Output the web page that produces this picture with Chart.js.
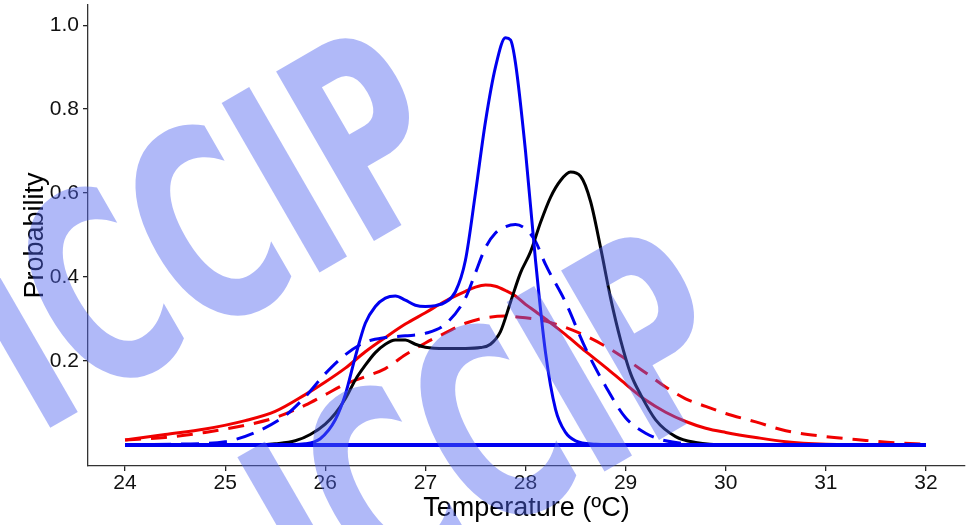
<!DOCTYPE html>
<html><head><meta charset="utf-8">
<script src="https://cdn.jsdelivr.net/npm/chart.js@4/dist/chart.umd.min.js"></script>
<style>html,body{margin:0;padding:0;background:#fff;}#wrap{width:968px;height:525px;position:relative;}</style>
</head><body><div id="wrap"><canvas id="c" width="968" height="525"></canvas></div>
<script>
// ---- data ----
const xTickValues = [24, 25, 26, 27, 28, 29, 30, 31, 32];
const yTickValues = [0.2, 0.4, 0.6, 0.8, 1.0];

const blueSolidT = [24, 25.5, 25.8, 25.95, 26.1, 26.2, 26.3, 26.4, 26.5, 26.6, 26.7, 26.8, 26.9, 27.0, 27.1, 27.2, 27.3, 27.4, 27.5, 27.6, 27.7, 27.8, 27.85, 27.9, 28.0, 28.1, 28.2, 28.3, 28.4, 28.5, 28.7, 29.0, 32];
const blueSolidP = [0, 0, 0.003, 0.015, 0.06, 0.12, 0.21, 0.29, 0.33, 0.35, 0.355, 0.345, 0.333, 0.33, 0.332, 0.34, 0.365, 0.44, 0.6, 0.77, 0.9, 0.97, 0.965, 0.91, 0.70, 0.44, 0.22, 0.085, 0.03, 0.01, 0.002, 0, 0];

const blueDashT = [24, 24.5, 25.0, 25.3, 25.6, 25.8, 26.0, 26.2, 26.4, 26.6, 26.8, 27.0, 27.2, 27.4, 27.5, 27.6, 27.7, 27.8, 27.9, 28.0, 28.1, 28.2, 28.4, 28.6, 28.8, 29.0, 29.2, 29.4, 29.7, 30, 32];
const blueDashP = [0, 0.002, 0.008, 0.03, 0.07, 0.115, 0.17, 0.215, 0.245, 0.256, 0.26, 0.266, 0.288, 0.35, 0.41, 0.47, 0.505, 0.52, 0.525, 0.515, 0.485, 0.43, 0.34, 0.23, 0.14, 0.065, 0.028, 0.01, 0.002, 0, 0];

const blackT = [24, 25.3, 25.5, 25.7, 25.85, 26.0, 26.1, 26.2, 26.3, 26.4, 26.5, 26.6, 26.7, 26.8, 26.9, 27.0, 27.2, 27.4, 27.55, 27.65, 27.75, 27.85, 27.95, 28.05, 28.15, 28.25, 28.35, 28.45, 28.55, 28.65, 28.75, 28.85, 28.95, 29.05, 29.15, 29.3, 29.5, 29.7, 30.0, 32];
const blackP = [0, 0, 0.003, 0.01, 0.025, 0.05, 0.075, 0.11, 0.155, 0.19, 0.22, 0.24, 0.25, 0.25, 0.24, 0.233, 0.23, 0.23, 0.232, 0.24, 0.27, 0.34, 0.41, 0.46, 0.53, 0.59, 0.63, 0.65, 0.64, 0.58, 0.47, 0.35, 0.25, 0.17, 0.12, 0.06, 0.02, 0.006, 0, 0];

const redSolidT = [24, 24.4, 24.8, 25.2, 25.5, 25.8, 26.0, 26.2, 26.4, 26.6, 26.8, 27.0, 27.2, 27.4, 27.5, 27.6, 27.7, 27.8, 27.9, 28.0, 28.1, 28.2, 28.4, 28.6, 28.8, 29.0, 29.2, 29.4, 29.6, 29.8, 30.0, 30.3, 30.6, 31.0, 31.5, 32];
const redSolidP = [0.012, 0.025, 0.038, 0.058, 0.08, 0.12, 0.15, 0.183, 0.222, 0.256, 0.288, 0.315, 0.343, 0.366, 0.376, 0.381, 0.378, 0.368, 0.355, 0.335, 0.318, 0.3, 0.263, 0.223, 0.185, 0.145, 0.107, 0.078, 0.056, 0.04, 0.03, 0.018, 0.008, 0.002, 0, 0];

const redDashT = [24, 24.4, 24.8, 25.2, 25.5, 25.8, 26.0, 26.2, 26.4, 26.6, 26.8, 27.0, 27.2, 27.4, 27.6, 27.8, 28.0, 28.2, 28.4, 28.6, 28.8, 29.0, 29.2, 29.4, 29.6, 29.8, 30.0, 30.3, 30.6, 31.0, 31.4, 31.7, 32.0];
const redDashP = [0.012, 0.018, 0.03, 0.047, 0.065, 0.095, 0.12, 0.145, 0.163, 0.182, 0.215, 0.243, 0.267, 0.29, 0.303, 0.307, 0.303, 0.295, 0.28, 0.26, 0.235, 0.205, 0.172, 0.138, 0.11, 0.092, 0.075, 0.055, 0.034, 0.02, 0.011, 0.005, 0.002];

const baselineT = [24, 32];
const baselineP = [0, 0];

const watermarkWords = ['ICCIP', 'ICCIP'];

// ---- build ----
const zip = (t, p) => t.map((v, i) => ({x: v, y: p[i]}));

const watermark = {
  id: 'watermark',
  afterDraw(chart) {
    const ctx = chart.ctx;
    const anchors = [[50, 428], [335, 627]];
    ctx.save();
    ctx.fillStyle = 'rgba(80,100,240,0.45)';
    ctx.textBaseline = 'alphabetic';
    ctx.textAlign = 'left';
    watermarkWords.forEach((w, i) => {
      ctx.save();
      ctx.translate(anchors[i][0], anchors[i][1]);
      ctx.rotate(-30 * Math.PI / 180);
      ctx.font = 'bold 200px "DejaVu Sans"';
      const m = ctx.measureText(w);
      const inkW = m.actualBoundingBoxLeft + m.actualBoundingBoxRight;
      const inkH = m.actualBoundingBoxAscent;
      ctx.scale(476 / inkW, 200 / inkH);
      ctx.fillText(w, m.actualBoundingBoxLeft, 0);
      ctx.restore();
    });
    ctx.restore();
  }
};

const line = (label, t, p, color, dash, width) => ({
  label, data: zip(t, p), borderColor: color, backgroundColor: color,
  borderWidth: width, borderDash: dash, borderCapStyle: 'butt',
  pointRadius: 0, fill: false, cubicInterpolationMode: 'monotone'
});

const FONT = '"Liberation Sans", Arial, sans-serif';

new Chart(document.getElementById('c'), {
  type: 'line',
  data: {
    datasets: [
      line('baseline', baselineT, baselineP, '#0000f0', [], 4),
      line('blue solid', blueSolidT, blueSolidP, '#0000f0', [], 3),
      line('black', blackT, blackP, '#000000', [], 3),
      line('blue dashed', blueDashT, blueDashP, '#0000f0', [18, 10], 3),
      line('red solid', redSolidT, redSolidP, '#f00000', [], 3),
      line('red dashed', redDashT, redDashP, '#f00000', [16, 10], 3)
    ]
  },
  options: {
    responsive: false, animation: false, devicePixelRatio: 1,
    layout: {padding: {top: 5, right: 3, left: 0, bottom: 0}},
    plugins: {legend: {display: false}, tooltip: {enabled: false}},
    scales: {
      x: {
        type: 'linear', min: 23.63, max: 32.39,
        afterBuildTicks: s => { s.ticks = xTickValues.map(v => ({value: v})); },
        afterFit: s => { s.height = 59; s.paddingLeft = 0; s.paddingRight = 0; },
        grid: {drawOnChartArea: false, drawTicks: true, tickLength: 5, color: '#222', lineWidth: 1.3},
        border: {display: true, color: '#333', width: 1.3},
        ticks: {padding: 0, color: '#111', font: {family: FONT, size: 21}, callback: v => String(v)},
        title: {display: true, text: 'Temperature (ºC)', color: '#000', padding: {top: 0, bottom: 0}, font: {family: FONT, size: 27}}
      },
      y: {
        type: 'linear', min: -0.05, max: 1.048,
        afterBuildTicks: s => { s.ticks = yTickValues.map(v => ({value: v})); },
        afterFit: s => { s.width = 88; s.paddingTop = 0; s.paddingBottom = 0; },
        grid: {drawOnChartArea: false, drawTicks: true, tickLength: 5, color: '#222', lineWidth: 1.3},
        border: {display: true, color: '#333', width: 1.3},
        ticks: {padding: 4, color: '#111', font: {family: FONT, size: 21}, callback: v => Number(v).toFixed(1)},
        title: {display: true, text: 'Probability', color: '#000', padding: {top: 19, bottom: 0}, font: {family: FONT, size: 27}}
      }
    }
  },
  plugins: [watermark]
});
</script>
</body></html>
